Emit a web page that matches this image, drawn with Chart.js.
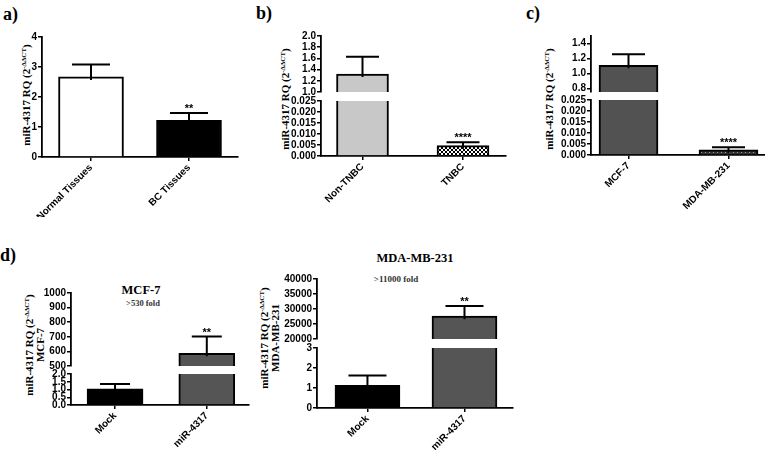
<!DOCTYPE html>
<html>
<head>
<meta charset="utf-8">
<script src="https://cdn.jsdelivr.net/npm/chart.js@4"></script>
<style>
  html, body { margin: 0; padding: 0; background: #fff; overflow: hidden; }
  #fig { position: relative; width: 765px; height: 450px; }
  canvas { position: absolute; }
  .t { position: absolute; font-family: 'Liberation Serif', 'Times New Roman', serif; font-weight: bold; white-space: nowrap; line-height: 1; color: #000; }
  .lab { font-size: 18px; }
  .yt { font-size: 11px; transform: translate(-50%, -50%) rotate(-90deg); text-align: center; line-height: 1; }
  .yt sup { font-size: 7px; vertical-align: 0; position: relative; top: -4px; }
  .ttl { font-size: 12.5px; transform: translateX(-50%); }
  .fold { font-size: 8.5px; color: #333; transform: translateX(-50%); }
</style>
</head>
<body>
<div id="fig">
  <div class="t lab" style="left:3px;top:5px">a)</div>
  <div class="t lab" style="left:256px;top:4px">b)</div>
  <div class="t lab" style="left:526px;top:4px">c)</div>
  <div class="t lab" style="left:0px;top:246px">d)</div>

  <div class="t yt" style="left:26px;top:95px">miR-4317 RQ (2<sup>-ΔΔCT</sup>)</div>
  <div class="t yt" style="left:285px;top:99px">miR-4317 RQ (2<sup>-ΔΔCT</sup>)</div>
  <div class="t yt" style="left:549px;top:99px">miR-4317 RQ (2<sup>-ΔΔCT</sup>)</div>
  <div class="t yt" style="left:35px;top:345px">miR-4317 RQ (2<sup>-ΔΔCT</sup>)<br>MCF-7</div>
  <div class="t yt" style="left:270px;top:338px">miR-4317 RQ (2<sup>-ΔΔCT</sup>)<br>MDA-MB-231</div>

  <div class="t ttl" style="left:141px;top:284px">MCF-7</div>
  <div class="t ttl" style="left:415px;top:252px">MDA-MB-231</div>
  <div class="t fold" style="left:143px;top:299px">&gt;530 fold</div>
  <div class="t fold" style="left:396px;top:275px;font-size:9px">&gt;11000 fold</div>
</div>
<script>
// a) tissues
const aLabels = ['Normal Tissues', 'BC Tissues'];
const aValues = [2.67, 1.22];
const aErrors = [0.41, 0.25];
const aStars = ['', '**'];
const aTicks = [0, 1, 2, 3, 4];

// b) TNBC
const bLabels = ['Non-TNBC', 'TNBC'];
const bValues = [1.32, 0.0047];
const bErrors = [0.31, 0.0015];
const bStars = ['', '****'];
const bTicksUpper = [1.0, 1.2, 1.4, 1.6, 1.8, 2.0];
const bTicksLower = [0, 0.005, 0.010, 0.015, 0.020, 0.025];

// c) cell lines
const cLabels = ['MCF-7', 'MDA-MB-231'];
const cValues = [1.107, 0.0023];
const cErrors = [0.148, 0.0012];
const cStars = ['', '****'];
const cTicksUpper = [0.8, 1.0, 1.2, 1.4];
const cTicksLower = [0, 0.005, 0.010, 0.015, 0.020, 0.025];

// d) transfection
const dLabels = ['Mock', 'miR-4317'];
const dMcfValues = [1.05, 587];
const dMcfErrors = [0.30, 115];
const dMcfStars = ['', '**'];
const dMcfTicksUpper = [500, 600, 700, 800, 900, 1000];
const dMcfTicksLower = [0, 0.5, 1.0, 1.5, 2.0];
const dMdaValues = [1.13, 27600];
const dMdaErrors = [0.50, 3400];
const dMdaStars = ['', '**'];
const dMdaTicksUpper = [20000, 25000, 30000, 35000, 40000];
const dMdaTicksLower = [0, 1, 2, 3];

Chart.defaults.font.family = "'Liberation Sans', Arial, sans-serif";
Chart.defaults.font.weight = 'bold';
Chart.defaults.font.size = 10;
Chart.defaults.color = '#000';

const Y_W = 50, X_H = 60, PAD = 8;
const fig = document.getElementById('fig');

function checker() {
  const c = document.createElement('canvas');
  c.width = c.height = 4;
  const g = c.getContext('2d');
  g.fillStyle = '#fff'; g.fillRect(0, 0, 4, 4);
  g.fillStyle = '#000'; g.fillRect(0, 0, 2, 2); g.fillRect(2, 2, 2, 2);
  return g.createPattern(c, 'repeat');
}

function dots() {
  const c = document.createElement('canvas');
  c.width = c.height = 4;
  const g = c.getContext('2d');
  g.fillStyle = '#333'; g.fillRect(0, 0, 4, 4);
  g.fillStyle = '#999'; g.fillRect(0, 0, 1, 1); g.fillRect(2, 2, 1, 1);
  return g.createPattern(c, 'repeat');
}

// error bars (upward only) + significance stars
const errorBars = {
  id: 'errorBars',
  afterDatasetsDraw(chart, args, opts) {
    const { ctx, chartArea: a, scales: { y } } = chart;
    const bars = chart.getDatasetMeta(0).data;
    const vals = chart.data.datasets[0].data;
    const tops = [];
    ctx.save();
    ctx.beginPath();
    ctx.rect(a.left - 30, a.top - 1, a.right - a.left + 60, a.bottom - a.top + 1);
    ctx.clip();
    ctx.strokeStyle = '#000';
    ctx.lineWidth = 2;
    bars.forEach((bar, i) => {
      const v = vals[i].y;
      const top = y.getPixelForValue(v + opts.errors[i]);
      const base = y.getPixelForValue(v);
      tops.push(top);
      ctx.beginPath();
      ctx.moveTo(bar.x, base + 3);
      ctx.lineTo(bar.x, top);
      ctx.moveTo(bar.x - opts.cap / 2, top);
      ctx.lineTo(bar.x + opts.cap / 2, top);
      ctx.stroke();
    });
    ctx.restore();
    ctx.save();
    ctx.fillStyle = '#000';
    ctx.font = "bold 11px 'Liberation Sans', Arial";
    ctx.textAlign = 'center';
    ctx.textBaseline = 'alphabetic';
    bars.forEach((bar, i) => {
      const s = opts.stars[i];
      if (s && tops[i] >= a.top && tops[i] <= a.bottom) ctx.fillText(s, bar.x, tops[i] - 1);
    });
    ctx.restore();
  }
};

function addChart(o) {
  const w = Y_W + (o.right - o.left) + PAD;
  const h = PAD + (o.bottom - o.top) + (o.showX ? X_H : PAD);
  const cv = document.createElement('canvas');
  cv.width = w;
  cv.height = h;
  cv.style.left = (o.left - Y_W) + 'px';
  cv.style.top = (o.top - PAD) + 'px';
  fig.appendChild(cv);

  const axisBorder = { display: true, color: '#000', width: 1.8 };

  new Chart(cv, {
    type: 'bar',
    data: {
      datasets: [{
        data: o.values.map((v, i) => ({ x: i, y: v })),
        backgroundColor: o.colors,
        borderColor: '#000',
        borderWidth: 2,
        barThickness: o.barW,
        clip: 0
      }]
    },
    options: {
      responsive: false,
      animation: false,
      devicePixelRatio: 1,
      layout: { padding: { top: PAD, bottom: o.showX ? 0 : PAD, left: 0, right: PAD } },
      plugins: {
        legend: { display: false },
        tooltip: { enabled: false },
        errorBars: { errors: o.errors, stars: o.stars, cap: o.cap }
      },
      scales: {
        x: {
          type: 'linear',
          bounds: 'data',
          offset: false,
          min: o.xMin,
          max: o.xMax,
          display: o.showX,
          afterBuildTicks: s => { s.ticks = o.labels.map((_, i) => ({ value: i })); },
          afterFit: s => { if (o.showX) s.height = X_H; },
          grid: { display: true, offset: false, drawOnChartArea: false, drawTicks: true, tickLength: 4, color: '#000', lineWidth: 1.5 },
          border: axisBorder,
          ticks: { callback: v => o.labels[v], maxRotation: 45, minRotation: 45, autoSkip: false, padding: 1 }
        },
        y: {
          bounds: 'data',
          min: o.yMin,
          max: o.yMax,
          afterBuildTicks: s => { s.ticks = o.ticks.map(v => ({ value: v })); },
          afterFit: s => { s.width = Y_W; },
          grid: { display: true, drawOnChartArea: false, drawTicks: true, tickLength: 4, color: '#000', lineWidth: 1.5 },
          border: axisBorder,
          ticks: { callback: v => v.toFixed(o.dec), padding: 1, autoSkip: false }
        }
      }
    },
    plugins: [errorBars]
  });
}

function brokenPanel(common, upper, lower) {
  addChart(Object.assign({}, common, upper, { showX: false }));
  addChart(Object.assign({}, common, lower, { showX: true }));
}

// a)
addChart({
  left: 42, right: 238, top: 37, bottom: 157,
  yMin: 0, yMax: 4, ticks: aTicks, dec: 0, showX: true,
  xMin: -0.5, xMax: 1.5, barW: 65, cap: 38,
  labels: aLabels, values: aValues, errors: aErrors, stars: aStars,
  colors: ['#ffffff', '#000000']
});

// b)
brokenPanel(
  { left: 321, right: 506, xMin: -0.413, xMax: 1.428, barW: 52, cap: 33,
    labels: bLabels, values: bValues, errors: bErrors, stars: bStars,
    colors: ['#c8c8c8', checker()] },
  { top: 36, bottom: 92, yMin: 1, yMax: 2, ticks: bTicksUpper, dec: 1 },
  { top: 101, bottom: 156, yMin: 0, yMax: 0.025, ticks: bTicksLower, dec: 3 }
);

// c)
brokenPanel(
  { left: 591, right: 766, xMin: -0.375, xMax: 1.375, barW: 59, cap: 33,
    labels: cLabels, values: cValues, errors: cErrors, stars: cStars,
    colors: ['#525252', dots()] },
  { top: 36, bottom: 92, yMin: 0.75, yMax: 1.5, ticks: cTicksUpper, dec: 1 },
  { top: 100, bottom: 155, yMin: 0, yMax: 0.025, ticks: cTicksLower, dec: 3 }
);

// d) MCF-7
brokenPanel(
  { left: 71, right: 249, xMin: -0.48, xMax: 1.46, barW: 56, cap: 30,
    labels: dLabels, values: dMcfValues, errors: dMcfErrors, stars: dMcfStars,
    colors: ['#000000', '#555555'] },
  { top: 293, bottom: 366, yMin: 500, yMax: 1000, ticks: dMcfTicksUpper, dec: 0 },
  { top: 374, bottom: 405, yMin: 0, yMax: 2, ticks: dMcfTicksLower, dec: 1 }
);

// d) MDA-MB-231
brokenPanel(
  { left: 317, right: 513, xMin: -0.52, xMax: 1.5, barW: 65, cap: 38,
    labels: dLabels, values: dMdaValues, errors: dMdaErrors, stars: dMdaStars,
    colors: ['#000000', '#555555'] },
  { top: 279, bottom: 339, yMin: 20000, yMax: 40000, ticks: dMdaTicksUpper, dec: 0 },
  { top: 348, bottom: 408, yMin: 0, yMax: 3, ticks: dMdaTicksLower, dec: 0 }
);
</script>
</body>
</html>
